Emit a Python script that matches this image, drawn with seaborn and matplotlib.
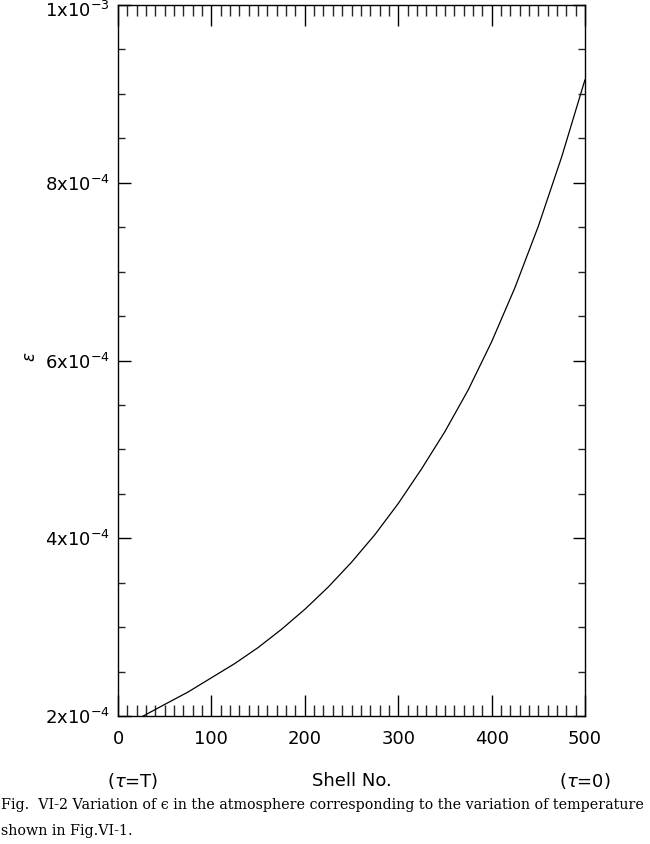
import numpy as np
import pandas as pd
import matplotlib
matplotlib.use('Agg')
import matplotlib.pyplot as plt
import matplotlib.transforms as mtransforms
from matplotlib.ticker import MultipleLocator, FixedLocator
import seaborn as sns

# --- dados ---
shell_no = [0, 27, 50, 75, 100, 125, 150, 175, 200, 225, 250, 275,
            300, 325, 350, 375, 400, 425, 450, 475, 500]
epsilon = [1.86e-4, 2.00e-4, 2.13e-4, 2.27e-4, 2.43e-4, 2.59e-4, 2.77e-4,
           2.975e-4, 3.20e-4, 3.45e-4, 3.73e-4, 4.04e-4, 4.39e-4, 4.78e-4,
           5.20e-4, 5.67e-4, 6.21e-4, 6.82e-4, 7.51e-4, 8.29e-4, 9.16e-4]

y_ticks = [2e-4, 4e-4, 6e-4, 8e-4, 1e-3]
y_tick_labels = [r'2x10$^{-4}$', r'4x10$^{-4}$', r'6x10$^{-4}$',
                 r'8x10$^{-4}$', r'1x10$^{-3}$']
x_ticks = [0, 100, 200, 300, 400, 500]

df = pd.DataFrame({'shell': shell_no, 'eps': epsilon})

sns.set_style('white')
plt.rcParams['font.family'] = ['DejaVu Sans']
plt.rcParams['mathtext.fontset'] = 'dejavusans'
plt.rcParams['text.color'] = 'black'

fig = plt.figure(figsize=(6.5, 8.44), dpi=100)
ax = fig.add_axes([118 / 650, 1 - 716 / 844, 467 / 650, 711 / 844])

sns.lineplot(data=df, x='shell', y='eps', color='black', linewidth=0.9, ax=ax)

ax.set_xlim(0, 500)
ax.set_ylim(2e-4, 1e-3)
ax.set_xticks(x_ticks)
ax.set_xticklabels([str(t) for t in x_ticks])
ax.xaxis.set_minor_locator(MultipleLocator(10))
ax.yaxis.set_major_locator(FixedLocator(y_ticks))
ax.set_yticklabels(y_tick_labels)
ax.yaxis.set_minor_locator(MultipleLocator(5e-5))

for s in ax.spines.values():
    s.set_color('black')
    s.set_linewidth(1.0)

ax.tick_params(axis='x', which='major', direction='in', length=15, width=1,
               top=True, bottom=True, labelsize=13, pad=10, colors='black')
ax.tick_params(axis='x', which='minor', direction='in', length=8, width=1,
               top=True, bottom=True)
ax.tick_params(axis='y', which='major', direction='in', length=9, width=1,
               left=True, right=True, labelsize=13, pad=6, colors='black')
ax.tick_params(axis='y', which='minor', direction='in', length=5, width=1,
               left=True, right=True)

# desce um pouco o rótulo do topo para não ser cortado
top_lbl = ax.get_yticklabels()[-1]
top_lbl.set_transform(top_lbl.get_transform() +
                      mtransforms.ScaledTranslation(0, -4 / 100, fig.dpi_scale_trans))

ax.set_xlabel('')
ax.set_ylabel('')

# rótulos dos eixos
fig.text(30 / 650, 1 - 357 / 844, r'$\epsilon$', rotation=90,
         ha='center', va='center', fontsize=12, color='black')
fig.text(352 / 650, 1 - 781 / 844, 'Shell No.', ha='center', va='center',
         fontsize=13, color='black')
fig.text(133 / 650, 1 - 781 / 844, r'($\tau$=T)', ha='center', va='center',
         fontsize=13, color='black')
fig.text(585 / 650, 1 - 781 / 844, r'($\tau$=0)', ha='center', va='center',
         fontsize=13, color='black')

# legenda da figura
cap_font = dict(family=['DejaVu Serif', 'Liberation Serif'], fontsize=10.3, color='black')
fig.text(1 / 650, 1 - 805 / 844,
         'Fig.  VI-2 Variation of \u03f5 in the atmosphere corresponding to the variation of temperature',
         ha='left', va='center', **cap_font)
fig.text(1 / 650, 1 - 831 / 844, 'shown in Fig.VI-1.', ha='left', va='center', **cap_font)

fig.savefig('out.png', dpi=100, facecolor='white')
